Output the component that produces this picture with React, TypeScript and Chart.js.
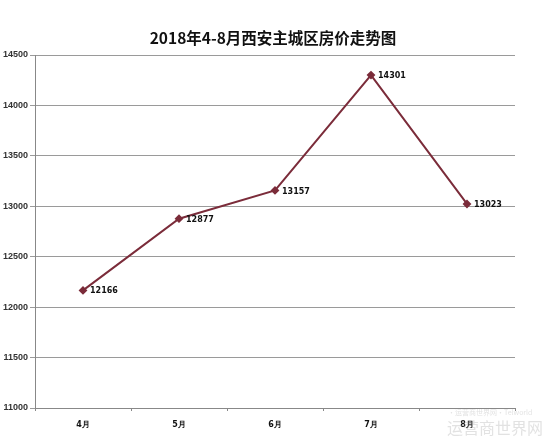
import React, { useEffect, useRef } from "react";
import { Chart, registerables } from "chart.js";

Chart.register(...registerables);

const TITLE = "2018年4-8月西安主城区房价走势图";
const categories = ["4月", "5月", "6月", "7月", "8月"];
const prices = [12166, 12877, 13157, 14301, 13023];
const yMin = 11000;
const yMax = 14500;
const yStep = 500;
const watermarkMain = "运营商世界网";
const watermarkSub = "·运营商世界网·Telworld";

const LINE_COLOR = "#7b2c3a";

const valueLabels = {
  id: "valueLabels",
  afterDatasetsDraw(chart: any) {
    const ctx = chart.ctx;
    const meta = chart.getDatasetMeta(0);
    ctx.save();
    ctx.font = "bold 8px 'DejaVu Sans', sans-serif";
    ctx.fillStyle = "#111";
    ctx.textAlign = "left";
    ctx.textBaseline = "middle";
    meta.data.forEach((pt: any, i: number) => {
      ctx.fillText(String(prices[i]), pt.x + 7, pt.y + 1);
    });
    ctx.restore();
  },
};

const titlePlugin = {
  id: "centeredTitle",
  afterDraw(chart: any) {
    const ctx = chart.ctx;
    ctx.save();
    ctx.fillStyle = "#111";
    ctx.textAlign = "center";
    ctx.textBaseline = "middle";
    ctx.font = "bold 15.5px 'Noto Sans CJK SC', sans-serif";
    ctx.fillText(TITLE, chart.width / 2 - 2, 38);
    ctx.restore();
  },
};

const watermark = {
  id: "watermark",
  afterDraw(chart: any) {
    const ctx = chart.ctx;
    ctx.save();
    ctx.fillStyle = "rgba(160,160,160,0.3)";
    ctx.textAlign = "left";
    ctx.textBaseline = "middle";
    ctx.font = "7px 'Noto Sans CJK SC', sans-serif";
    ctx.fillText(watermarkSub, 448, 412);
    ctx.font = "16px 'Noto Sans CJK SC', sans-serif";
    ctx.fillText(watermarkMain, 447, 428);
    ctx.restore();
  },
};

export default function App() {
  const ref = useRef<HTMLCanvasElement | null>(null);
  useEffect(() => {
    document.body.style.margin = "0";
    const chart = new Chart(ref.current as HTMLCanvasElement, {
      type: "line",
      data: {
        labels: categories,
        datasets: [
          {
            data: prices,
            borderColor: LINE_COLOR,
            backgroundColor: LINE_COLOR,
            borderWidth: 2,
            pointStyle: "rectRot",
            pointRadius: 3,
            pointBackgroundColor: LINE_COLOR,
            pointBorderColor: LINE_COLOR,
            tension: 0,
          },
        ],
      },
      options: {
        animation: false,
        responsive: true,
        maintainAspectRatio: false,
        layout: { padding: { left: 0, right: 35, top: 55, bottom: 0 } },
        plugins: {
          legend: { display: false },
          tooltip: { enabled: false },
          title: { display: false },
        },
        scales: {
          x: {
            offset: true,
            grid: {
              offset: true,
              drawOnChartArea: false,
              drawTicks: true,
              tickLength: 3,
              color: "#888",
            },
            border: { display: true, color: "#888", width: 1 },
            ticks: {
              color: "#111",
              font: { size: 8, weight: "bold", family: "'DejaVu Sans', sans-serif" },
              padding: 9,
            },
            afterFit: (scale: any) => {
              scale.height = 33;
            },
          },
          y: {
            min: yMin,
            max: yMax,
            ticks: {
              stepSize: yStep,
              color: "#333",
              font: { size: 9, weight: "bold", family: "'Liberation Sans', sans-serif" },
              padding: 2,
              callback: (v: any) => String(v),
            },
            grid: {
              color: "#9a9a9a",
              lineWidth: 1,
              drawTicks: true,
              tickLength: 5,
            },
            border: { display: true, color: "#888", width: 1 },
            afterFit: (scale: any) => {
              scale.width = 35;
            },
          },
        },
      },
      plugins: [valueLabels, titlePlugin, watermark],
    });
    return () => chart.destroy();
  }, []);
  return (
    <div style={{ position: "fixed", left: 0, top: 0, width: 550, height: 441, background: "#fff" }}>
      <canvas ref={ref} />
    </div>
  );
}
